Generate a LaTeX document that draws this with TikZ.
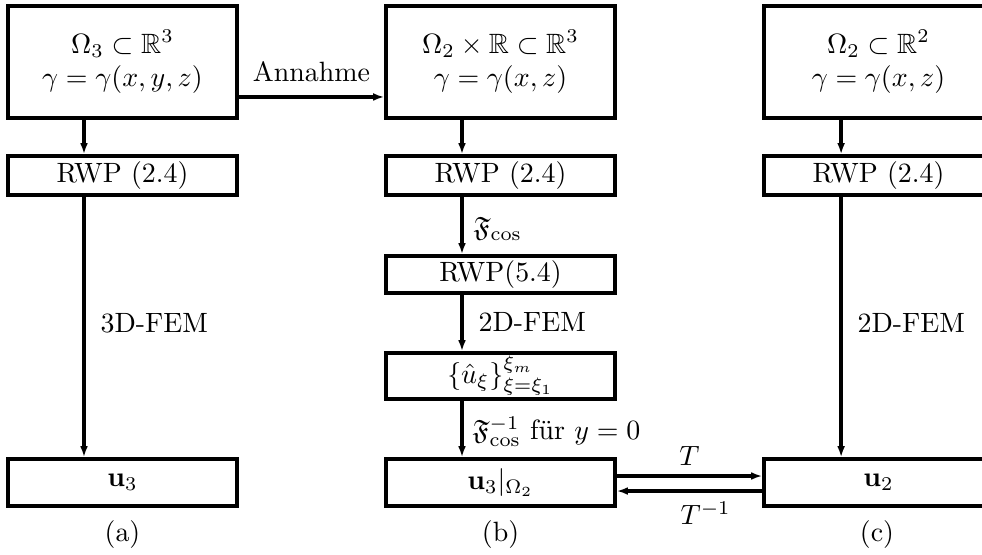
\documentclass[tikz,border=0pt]{standalone}
\usepackage{amssymb}
\usetikzlibrary{arrows.meta}
\begin{document}
\begin{tikzpicture}[x=0.3584pt,y=-0.3584pt,
  box/.style={draw,line width=1.2pt,rectangle,inner sep=0pt,minimum width=82.07pt,align=center},
  flow/.style={line width=1.2pt,-{Latex[length=4pt,width=2.8pt]}},
  lbl/.style={anchor=west,inner sep=0pt},
  ]
\useasboundingbox (0,0) rectangle (982,554);

% column (a): full 3D problem
\node[box,minimum height=40.14pt] (A1) at (122.5,62) {$\Omega_3\subset\mathbb{R}^3$\\ $\gamma=\gamma(x,y,z)$};
\node[box,minimum height=13.98pt] (A2) at (122.5,175.5) {RWP (2.4)};
\node[box,minimum height=16.84pt] (A3) at (122.5,482.5) {$\mathbf{u}_3$};
\node (la) at (122.5,535) {(a)};

% column (b): cosine transform in y
\node[box,minimum height=40.14pt] (B1) at (500.5,62) {$\Omega_2\times\mathbb{R}\subset\mathbb{R}^3$\\ $\gamma=\gamma(x,z)$};
\node[box,minimum height=13.98pt] (B2) at (500.5,175.5) {RWP (2.4)};
\node[box,minimum height=13.26pt] (B3) at (500.5,274.5) {RWP(5.4)};
\node[box,minimum height=16.49pt] (B4) at (500.5,376) {$\{\hat{u}_\xi\}_{\xi=\xi_1}^{\xi_m}$};
\node[box,minimum height=16.84pt] (B5) at (500.5,482.5) {$\mathbf{u}_3|_{\Omega_2}$};
\node (lb) at (500.5,535) {(b)};

% column (c): 2D problem
\node[box,minimum height=40.14pt] (C1) at (878.5,62) {$\Omega_2\subset\mathbb{R}^2$\\ $\gamma=\gamma(x,z)$};
\node[box,minimum height=13.98pt] (C2) at (878.5,175.5) {RWP (2.4)};
\node[box,minimum height=16.84pt] (C3) at (878.5,482.5) {$\mathbf{u}_2$};
\node (lc) at (877,535) {(c)};

% vertical flow arrows
\draw[flow] ([xshift=-13.8pt]A1.south) -- ([xshift=-13.8pt]A2.north);
\draw[flow] ([xshift=-13.8pt]A2.south) -- ([xshift=-13.8pt]A3.north);
\draw[flow] ([xshift=-13.8pt]B1.south) -- ([xshift=-13.8pt]B2.north);
\draw[flow] ([xshift=-13.8pt]B2.south) -- ([xshift=-13.8pt]B3.north);
\draw[flow] ([xshift=-13.8pt]B3.south) -- ([xshift=-13.8pt]B4.north);
\draw[flow] ([xshift=-13.8pt]B4.south) -- ([xshift=-13.8pt]B5.north);
\draw[flow] ([xshift=-13.4pt]C1.south) -- ([xshift=-13.4pt]C2.north);
\draw[flow] ([xshift=-13.4pt]C2.south) -- ([xshift=-13.4pt]C3.north);

% arrow labels
\node[lbl] at (100,323) {3D-FEM};
\node[lbl] at (473,229) {$\mathfrak{F}_{\cos}$};
\node[lbl] at (478,322) {2D-FEM};
\node[lbl] at (472,432) {$\mathfrak{F}_{\cos}^{-1}$ f\"ur $y=0$};
\node[lbl] at (857,323) {2D-FEM};

% horizontal arrows
\draw[flow] ([yshift=-12.54pt]A1.east) -- node[above=5pt,inner sep=0pt] {Annahme} ([yshift=-12.54pt]B1.west);
\draw[flow] ([yshift=2.33pt]B5.east) -- node[above] {$T$} ([yshift=2.33pt]C3.west);
\draw[flow] ([yshift=-3.05pt]C3.west) -- node[below,xshift=5.8pt] {$T^{-1}$} ([yshift=-3.05pt]B5.east);
\end{tikzpicture}
\end{document}
